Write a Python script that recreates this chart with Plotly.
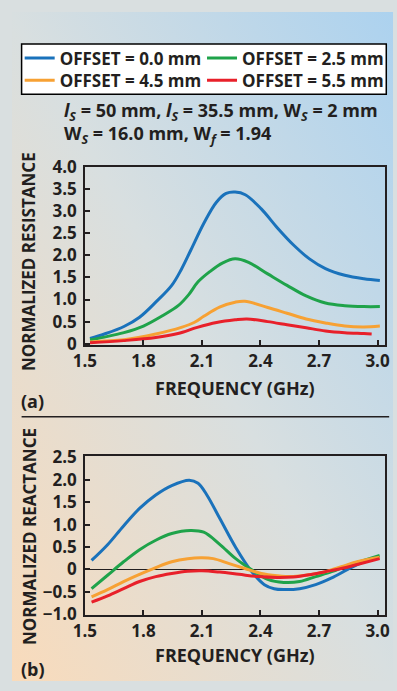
import base64
import plotly.graph_objects as go

# ---------------- data ----------------
series_names = ["OFFSET = 0.0 mm", "OFFSET = 2.5 mm", "OFFSET = 4.5 mm", "OFFSET = 5.5 mm"]
series_colors = ["#1a72bb", "#1fa34a", "#f7a133", "#e8202a"]
legend_of_series = ["legend", "legend2", "legend3", "legend4"]

# (a) normalized resistance
res_f_00 = [1.526, 1.6, 1.7, 1.78, 1.863, 1.945, 1.994, 2.043, 2.109, 2.174, 2.224, 2.27, 2.322, 2.404, 2.487, 2.568, 2.651, 2.733, 2.832, 2.93, 3.012]
res_v_00 = [0.12, 0.22, 0.39, 0.6, 0.94, 1.32, 1.68, 2.12, 2.72, 3.2, 3.4, 3.43, 3.37, 3.05, 2.62, 2.24, 1.92, 1.70, 1.55, 1.47, 1.43]
res_f_25 = [1.526, 1.6, 1.7, 1.8, 1.9, 1.978, 2.03, 2.08, 2.14, 2.207, 2.27, 2.339, 2.437, 2.536, 2.634, 2.733, 2.832, 2.93, 3.012]
res_v_25 = [0.09, 0.15, 0.25, 0.40, 0.64, 0.86, 1.1, 1.4, 1.63, 1.83, 1.92, 1.84, 1.58, 1.32, 1.08, 0.92, 0.86, 0.84, 0.84]
res_f_45 = [1.526, 1.6, 1.7, 1.863, 1.994, 2.06, 2.109, 2.19, 2.27, 2.32, 2.437, 2.536, 2.634, 2.733, 2.832, 2.93, 3.012]
res_v_45 = [0.04, 0.06, 0.09, 0.22, 0.37, 0.48, 0.62, 0.83, 0.94, 0.96, 0.82, 0.69, 0.56, 0.47, 0.40, 0.38, 0.40]
res_f_55 = [1.526, 1.698, 1.863, 1.977, 2.076, 2.175, 2.27, 2.33, 2.437, 2.536, 2.634, 2.733, 2.832, 2.93, 2.97]
res_v_55 = [0.02, 0.07, 0.14, 0.23, 0.37, 0.48, 0.54, 0.56, 0.5, 0.43, 0.36, 0.29, 0.25, 0.23, 0.22]

# (b) normalized reactance
rea_f_00 = [1.534, 1.616, 1.698, 1.78, 1.863, 1.945, 2.035, 2.08, 2.125, 2.191, 2.273, 2.355, 2.42, 2.47, 2.519, 2.601, 2.683, 2.765, 2.847, 2.929, 3.005]
rea_v_00 = [0.20, 0.55, 0.97, 1.36, 1.66, 1.87, 1.99, 1.92, 1.66, 1.14, 0.49, -0.05, -0.34, -0.43, -0.45, -0.43, -0.34, -0.19, 0.0, 0.17, 0.27]
rea_f_25 = [1.534, 1.616, 1.698, 1.78, 1.863, 1.945, 2.04, 2.109, 2.191, 2.273, 2.355, 2.437, 2.519, 2.601, 2.683, 2.765, 2.847, 2.929, 3.011]
rea_v_25 = [-0.43, -0.13, 0.17, 0.44, 0.65, 0.80, 0.87, 0.83, 0.56, 0.24, -0.01, -0.22, -0.29, -0.27, -0.16, -0.05, 0.09, 0.20, 0.31]
rea_f_45 = [1.534, 1.616, 1.698, 1.78, 1.863, 1.945, 2.027, 2.10, 2.158, 2.24, 2.32, 2.404, 2.486, 2.568, 2.65, 2.732, 2.814, 2.896, 3.011]
rea_v_45 = [-0.61, -0.45, -0.27, -0.11, 0.04, 0.17, 0.24, 0.26, 0.24, 0.13, 0.02, -0.09, -0.14, -0.16, -0.12, -0.05, 0.06, 0.17, 0.27]
rea_f_55 = [1.534, 1.616, 1.698, 1.78, 1.863, 1.945, 2.027, 2.10, 2.191, 2.29, 2.39, 2.486, 2.568, 2.65, 2.732, 2.814, 2.896, 3.011]
rea_v_55 = [-0.73, -0.59, -0.43, -0.27, -0.16, -0.09, -0.04, -0.03, -0.06, -0.11, -0.16, -0.18, -0.17, -0.12, -0.05, 0.02, 0.11, 0.24]

x_tickvals = [1.5, 1.8, 2.1, 2.4, 2.7, 3.0]
x_ticktext = ["1.5", "1.8", "2.1", "2.4", "2.7", "3.0"]
res_tickvals = [0, 0.5, 1.0, 1.5, 2.0, 2.5, 3.0, 3.5, 4.0]
res_ticktext = ["0", "0.5", "1.0", "1.5", "2.0", "2.5", "3.0", "3.5", "4.0"]
rea_tickvals = [-1.0, -0.5, 0, 0.5, 1.0, 1.5, 2.0, 2.5]
rea_ticktext = ["\u22121.0", "\u22120.5", "0", "0.5", "1.0", "1.5", "2.0", "2.5"]

# ---------------- figure ----------------
W, H = 397, 691
INK = "#231f20"
FONT = "Open Sans"

def px(x):
    return x / W

def py(y):
    return 1 - y / H

res_sets = [(res_f_00, res_v_00), (res_f_25, res_v_25), (res_f_45, res_v_45), (res_f_55, res_v_55)]
rea_sets = [(rea_f_00, rea_v_00), (rea_f_25, rea_v_25), (rea_f_45, rea_v_45), (rea_f_55, rea_v_55)]

fig = go.Figure()
for i, (f, v) in enumerate(res_sets):
    fig.add_trace(go.Scatter(x=f, y=v, mode="lines", name=series_names[i],
                             line=dict(color=series_colors[i], width=3, shape="spline", smoothing=1.0),
                             xaxis="x", yaxis="y", showlegend=True, legend=legend_of_series[i]))
for i, (f, v) in enumerate(rea_sets):
    fig.add_trace(go.Scatter(x=f, y=v, mode="lines", name=series_names[i],
                             line=dict(color=series_colors[i], width=3, shape="spline", smoothing=1.0),
                             xaxis="x2", yaxis="y2", showlegend=False))

tickfont = dict(family=FONT, size=17, color=INK, weight="bold")
common_axis = dict(showline=True, mirror=True, linecolor=INK, linewidth=1.5,
                   ticks="inside", ticklen=5, tickwidth=1.5, tickcolor=INK,
                   showgrid=False, tickfont=tickfont, fixedrange=True)

legend_font = dict(family=FONT, size=17, color=INK, weight="bold")
legend_common = dict(yanchor="middle", xanchor="left", orientation="v", bgcolor="rgba(0,0,0,0)",
                     borderwidth=0, font=legend_font, itemwidth=30, tracegroupgap=0)

xdom = [px(76), px(389)]
fig.update_layout(
    width=W, height=H,
    margin=dict(l=0, r=0, t=0, b=0),
    paper_bgcolor="#d9dfe0",
    plot_bgcolor="white",
    xaxis=dict(domain=xdom, range=[1.5, 3.04], tickvals=x_tickvals, ticktext=x_ticktext,
               anchor="y", ticklabelstandoff=0, zeroline=False, **common_axis),
    yaxis=dict(domain=[py(344), py(160)], range=[-0.03, 4.0], tickvals=res_tickvals, ticktext=res_ticktext,
               anchor="x", ticklabelstandoff=3, zeroline=False, **common_axis),
    xaxis2=dict(domain=xdom, range=[1.5, 3.04], tickvals=x_tickvals, ticktext=x_ticktext,
                anchor="y2", ticklabelstandoff=0, zeroline=False, **common_axis),
    yaxis2=dict(domain=[py(623), py(459)], range=[-1.02, 2.52], tickvals=rea_tickvals, ticktext=rea_ticktext,
                anchor="x2", ticklabelstandoff=3, zeroline=True, zerolinecolor=INK, zerolinewidth=1.2,
                **common_axis),
    legend=dict(x=px(8), y=py(48), **legend_common),
    legend2=dict(x=px(198), y=py(48), **legend_common),
    legend3=dict(x=px(8), y=py(71), **legend_common),
    legend4=dict(x=px(198), y=py(71), **legend_common),
    showlegend=True,
)

# background gradient
svg = ('<svg xmlns="http://www.w3.org/2000/svg" width="397" height="691" viewBox="0 0 397 691" preserveAspectRatio="none">'
       '<defs><linearGradient id="g" x1="0" y1="1" x2="1" y2="0">'
       '<stop offset="0" stop-color="#f9dbbb"/><stop offset="0.5" stop-color="#d8dfe0"/>'
       '<stop offset="1" stop-color="#acd2ef"/></linearGradient></defs>'
       '<rect width="397" height="691" fill="url(#g)"/></svg>')
uri = "data:image/svg+xml;base64," + base64.b64encode(svg.encode()).decode()
fig.add_layout_image(dict(source=uri, xref="paper", yref="paper", x=0, y=1, sizex=1, sizey=1,
                          sizing="stretch", xanchor="left", yanchor="top", layer="below"))

# legend frame
fig.add_shape(type="rect", xref="paper", yref="paper", x0=px(10), x1=px(390), y0=py(85), y1=py(33),
              line=dict(color="black", width=1.5), fillcolor="white", layer="above")

# separator line
fig.add_shape(type="line", xref="paper", yref="paper", x0=px(10), x1=px(393), y0=py(418), y1=py(418),
              line=dict(color=INK, width=1.5))

def ann(text, x, y, size, xanchor="center", angle=0):
    fig.add_annotation(text=text, xref="paper", yref="paper", x=px(x), y=py(y),
                       xanchor=xanchor, yanchor="middle", showarrow=False, textangle=angle,
                       align="left" if xanchor == "left" else "center",
                       font=dict(family=FONT, size=size, color=INK, weight="bold"))

ann("<i>l</i><sub><i>S</i></sub> = 50 mm, <i>l</i><sub><i>S</i></sub> = 35.5 mm, W<sub><i>S</i></sub> = 2 mm"
    "<br>W<sub><i>S</i></sub> = 16.0 mm, W<sub><i>f</i></sub> = 1.94", 52, 115, 18, "left")
ann("NORMALIZED RESISTANCE", 18, 258, 17, angle=-90)
ann("NORMALIZED REACTANCE", 19, 542, 17, angle=-90)
ann("FREQUENCY (GHz)", 232, 388, 18)
ann("FREQUENCY (GHz)", 232, 664, 18)
ann("(a)", 7, 402, 18, "left")
ann("(b)", 7, 679, 18, "left")

fig.write_html("out.html")
